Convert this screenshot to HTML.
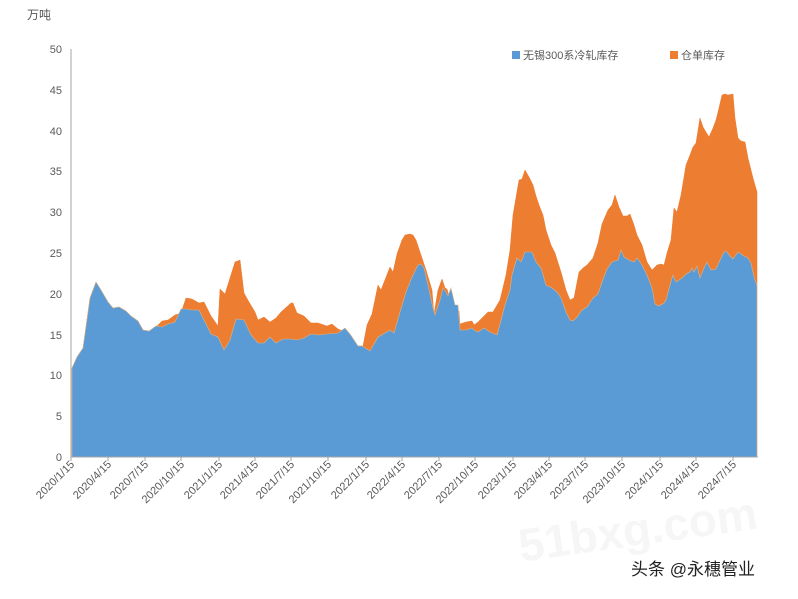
<!DOCTYPE html>
<html><head><meta charset="utf-8"><style>
body{margin:0;background:#fff;width:798px;height:594px;overflow:hidden;font-family:"Liberation Sans","Noto Sans CJK SC",sans-serif;}
svg text{font-family:"Liberation Sans","Noto Sans CJK SC",sans-serif;}
</style></head><body>
<svg width="798" height="594" viewBox="0 0 798 594">
<text x="27" y="19" font-size="12" fill="#555">万吨</text>
<g font-size="11" fill="#595959" text-anchor="end">
<text x="62" y="461">0</text><text x="62" y="420">5</text><text x="62" y="379">10</text><text x="62" y="339">15</text><text x="62" y="298">20</text><text x="62" y="257">25</text><text x="62" y="216">30</text><text x="62" y="175">35</text><text x="62" y="135">40</text><text x="62" y="94">45</text><text x="62" y="53">50</text>
</g>
<text x="640" y="545" font-size="46" font-weight="bold" fill="#f6f6f6" text-anchor="middle" transform="rotate(-8 640 545)">51bxg.com</text>
<polygon fill="#ED7D31" stroke="#ED7D31" stroke-width="0.5" points="72,457 72,368 77,357 83,348 90,298 96,282 101,290 108,302 113,308 119,307 126,311 131,316 138,321 143,330 149,331 156,327 162,321 168,320 175,315 181,313 186,298 192,299 199,303 204,302 211,316 218,326 220,289 225,294 235,262 240,260 244,293 249,302 255,312 258,320 264,317 270,322 276,318 281,312 291,303 293,303 297,313 304,316 311,323 318,323 327,326 332,324 338,329 345,332 350,334 358,346 363,346 367,325 372,314 378,285 381,290 390,267 393,272 397,254 402,240 405,235 410,234 413,235 416,240 419,249 422,258 426,270 432,290 434,314 438,290 442,279 445,288 447,289 449,296 453,306 459,311 460,324 466,322 472,321 474,325 478,322 484,316 488,312 493,312 500,300 506,275 510,250 513,215 519,180 522,179 525,170 529,177 533,185 536,196 539,205 543,215 546,230 551,245 555,253 561,272 566,290 570,300 574,298 579,272 583,268 587,265 593,258 598,243 602,224 608,210 612,205 615,195 619,207 623,216 627,216 630,214 634,225 637,235 642,245 647,262 652,270 657,265 661,264 664,265 667,253 671,240 674,208 677,212 681,195 686,165 690,155 693,147 696,143 700,118 703,127 709,137 713,128 716,120 719,108 722,95 725,94 728,95 733,94 735,118 738,138 741,141 745,142 748,158 751,170 753,178 757,192 757,457"/>
<polygon fill="#5B9BD5" stroke="#D9B48A" stroke-width="0.6" points="72,457 72,368 77,357 83,348 90,298 96,282 101,290 108,302 113,308 119,307 126,311 131,316 138,321 143,330 149,331 156,326 162,327 168,324 175,322 181,309 186,309 192,310 199,310 204,320 211,334 218,337 224,350 230,340 236,319 244,320 251,335 258,343 264,343 270,337 276,343 283,339 291,339 297,340 304,338 311,334 318,335 327,334 338,333 345,328 350,334 358,346 362,346 370,351 378,337 390,330 394,333 400,312 406,292 412,277 418,265 421,264 424,268 428,285 433,308 435,315 440,300 443,288 446,292 448,296 451,288 455,305 458,305 460,330 466,330 472,328 474,330 478,332 484,328 490,332 497,335 500,324 505,305 510,290 512,275 517,258 521,262 525,252 532,252 536,262 541,268 546,285 552,288 557,292 561,298 566,312 570,320 573,321 577,317 582,310 587,307 593,298 598,294 602,282 607,269 612,262 618,260 621,250 624,257 629,260 634,262 637,258 642,265 647,275 652,288 655,304 659,306 664,303 666,300 670,285 673,275 676,282 682,278 686,274 690,272 692,268 694,272 697,266 700,278 704,268 707,262 711,270 716,269 720,260 724,252 726,251 730,256 733,259 738,252 744,256 748,258 751,263 754,277 757,286 757,457"/>
<line x1="71" y1="49" x2="71" y2="457" stroke="#a6a6a6"/>
<line x1="71" y1="457" x2="758" y2="457" stroke="#a6a6a6"/>
<g stroke="#a6a6a6">
<line x1="71" y1="457" x2="71" y2="461"/><line x1="108" y1="457" x2="108" y2="461"/><line x1="145" y1="457" x2="145" y2="461"/><line x1="181" y1="457" x2="181" y2="461"/><line x1="219" y1="457" x2="219" y2="461"/><line x1="255" y1="457" x2="255" y2="461"/><line x1="291" y1="457" x2="291" y2="461"/><line x1="328" y1="457" x2="328" y2="461"/><line x1="366" y1="457" x2="366" y2="461"/><line x1="402" y1="457" x2="402" y2="461"/><line x1="439" y1="457" x2="439" y2="461"/><line x1="475" y1="457" x2="475" y2="461"/><line x1="513" y1="457" x2="513" y2="461"/><line x1="549" y1="457" x2="549" y2="461"/><line x1="585" y1="457" x2="585" y2="461"/><line x1="622" y1="457" x2="622" y2="461"/><line x1="660" y1="457" x2="660" y2="461"/><line x1="696" y1="457" x2="696" y2="461"/><line x1="733" y1="457" x2="733" y2="461"/>
</g>
<g font-size="11" fill="#595959" text-anchor="end">
<text transform="translate(75,465) rotate(-45)">2020/1/15</text>
<text transform="translate(112,465) rotate(-45)">2020/4/15</text>
<text transform="translate(149,465) rotate(-45)">2020/7/15</text>
<text transform="translate(185,465) rotate(-45)">2020/10/15</text>
<text transform="translate(223,465) rotate(-45)">2021/1/15</text>
<text transform="translate(259,465) rotate(-45)">2021/4/15</text>
<text transform="translate(295,465) rotate(-45)">2021/7/15</text>
<text transform="translate(332,465) rotate(-45)">2021/10/15</text>
<text transform="translate(370,465) rotate(-45)">2022/1/15</text>
<text transform="translate(406,465) rotate(-45)">2022/4/15</text>
<text transform="translate(443,465) rotate(-45)">2022/7/15</text>
<text transform="translate(479,465) rotate(-45)">2022/10/15</text>
<text transform="translate(517,465) rotate(-45)">2023/1/15</text>
<text transform="translate(553,465) rotate(-45)">2023/4/15</text>
<text transform="translate(589,465) rotate(-45)">2023/7/15</text>
<text transform="translate(626,465) rotate(-45)">2023/10/15</text>
<text transform="translate(664,465) rotate(-45)">2024/1/15</text>
<text transform="translate(700,465) rotate(-45)">2024/4/15</text>
<text transform="translate(737,465) rotate(-45)">2024/7/15</text>
</g>
<rect x="512" y="51" width="8" height="8" fill="#5B9BD5"/>
<text x="523" y="59" font-size="11" fill="#595959">无锡300系冷轧库存</text>
<rect x="670" y="51" width="8" height="8" fill="#ED7D31"/>
<text x="681" y="59" font-size="11" fill="#595959">仓单库存</text>
<text x="631" y="575" font-size="17" fill="#222">头条 @永穗管业</text>
</svg>
</body></html>
